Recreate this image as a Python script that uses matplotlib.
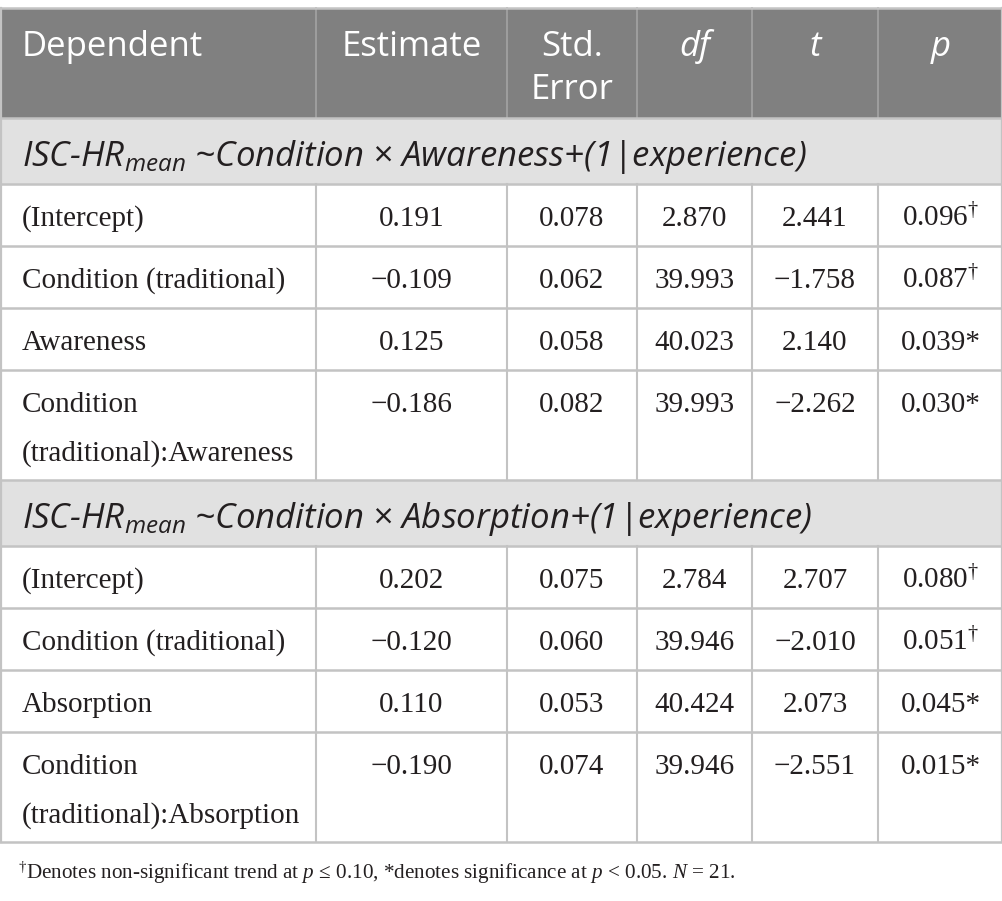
import matplotlib
matplotlib.use("Agg")
import matplotlib.pyplot as plt
from matplotlib.patches import Rectangle

plt.rcParams['mathtext.fontset'] = 'custom'
plt.rcParams['mathtext.rm'] = 'Liberation Serif'
plt.rcParams['mathtext.it'] = 'Liberation Serif:italic'
plt.rcParams['mathtext.sf'] = 'Open Sans:italic'

# table content
columns = ["Dependent", "Estimate", "Std.\nError", "df", "t", "p"]
columns_italic = [False, False, False, True, True, True]

model_predictors = ["Awareness", "Absorption"]

terms_awareness = ["(Intercept)", "Condition (traditional)", "Awareness",
                   "Condition\n(traditional):Awareness"]
est_awareness = ["0.191", "−0.109", "0.125", "−0.186"]
se_awareness = ["0.078", "0.062", "0.058", "0.082"]
df_awareness = ["2.870", "39.993", "40.023", "39.993"]
t_awareness = ["2.441", "−1.758", "2.140", "−2.262"]
p_awareness = ["0.096", "0.087", "0.039", "0.030"]
sig_awareness = ["†", "†", "*", "*"]

terms_absorption = ["(Intercept)", "Condition (traditional)", "Absorption",
                    "Condition\n(traditional):Absorption"]
est_absorption = ["0.202", "−0.120", "0.110", "−0.190"]
se_absorption = ["0.075", "0.060", "0.053", "0.074"]
df_absorption = ["2.784", "39.946", "40.424", "39.946"]
t_absorption = ["2.707", "−2.010", "2.073", "−2.551"]
p_absorption = ["0.080", "0.051", "0.045", "0.015"]
sig_absorption = ["†", "†", "*", "*"]

footnote = ("$^{\\mathrm{†}}$Denotes non-significant trend at $p$ ≤ 0.10, "
            "*denotes significance at $p$ < 0.05. $N$ = 21.")

blocks = [
    (model_predictors[0], terms_awareness, est_awareness, se_awareness,
     df_awareness, t_awareness, p_awareness, sig_awareness),
    (model_predictors[1], terms_absorption, est_absorption, se_absorption,
     df_absorption, t_absorption, p_absorption, sig_absorption),
]

# layout (pixels)
W, H = 1003, 901
col_edges = [0, 316, 507, 637, 752, 878, 1003]
top = 8
header_h = 110
section_h = 66
row_h = 62
line_step = 49
pad_left = 22

HEADER_BG = "#808080"
HEADER_SEP = "#a3a3a3"
SECTION_BG = "#e1e1e1"
GRID = "#c3c3c3"
INK = "#231f20"

SANS = "Open Sans"
SERIF = "Liberation Serif"

fig = plt.figure(figsize=(W / 100, H / 100), dpi=100)
ax = fig.add_axes([0, 0, 1, 1])
ax.set_xlim(0, W)
ax.set_ylim(H, 0)
ax.axis("off")

centers = [(a + b) / 2 for a, b in zip(col_edges[:-1], col_edges[1:])]

# header
ax.add_patch(Rectangle((0, top), W, header_h, facecolor=HEADER_BG, edgecolor="none"))
for x in col_edges[1:-1]:
    ax.plot([x, x], [top, top + header_h], color=HEADER_SEP, lw=1.2)
for i, name in enumerate(columns):
    for k, line in enumerate(name.split("\n")):
        ax.text(pad_left if i == 0 else centers[i], top + 48 + k * 43, line,
                ha="left" if i == 0 else "center", va="baseline",
                color="white", fontsize=25, family=SANS,
                style="italic" if columns_italic[i] else "normal")

y = top + header_h
hlines = [top, y]
for predictor, terms, est, se, dfs, ts, ps, sigs in blocks:
    # model section band
    ax.add_patch(Rectangle((0, y), W, section_h, facecolor=SECTION_BG, edgecolor="none"))
    title = ("ISC-HR$_{\\mathsf{mean}}$ ~Condition × " + predictor
             + "+(1|experience)")
    ax.text(pad_left, y + 48, title, ha="left", va="baseline", color=INK,
            fontsize=25, family=SANS, style="italic")
    y += section_h
    hlines.append(y)
    for j in range(len(terms)):
        lines = terms[j].split("\n")
        h = row_h + (len(lines) - 1) * (line_step - 1)
        base = y + 42
        for k, line in enumerate(lines):
            ax.text(pad_left, base + k * line_step, line, ha="left", va="baseline",
                    color=INK, fontsize=21, family=SERIF)
        cells = [est[j], se[j], dfs[j], ts[j]]
        for c, val in enumerate(cells):
            ax.text(centers[c + 1], base, val, ha="center", va="baseline",
                    color=INK, fontsize=21, family=SERIF)
        if sigs[j] == "*":
            pval = ps[j] + "*"
        else:
            pval = ps[j] + "$^{\\mathrm{" + sigs[j] + "}}$"
        ax.text(centers[5], base, pval, ha="center", va="baseline",
                color=INK, fontsize=21, family=SERIF)
        for x in col_edges[1:-1]:
            ax.plot([x, x], [y, y + h], color=GRID, lw=1.5)
        y += h
        hlines.append(y)

bottom = y
for yy in hlines:
    ax.plot([0, W], [yy, yy], color=GRID, lw=1.8)
ax.plot([0.8, 0.8], [top, bottom], color=GRID, lw=1.6)
ax.plot([W - 0.8, W - 0.8], [top, bottom], color=GRID, lw=1.6)

ax.text(18, bottom + 37, footnote, ha="left", va="baseline", color=INK,
        fontsize=15.2, family=SERIF)

fig.savefig("out.png", dpi=100)
